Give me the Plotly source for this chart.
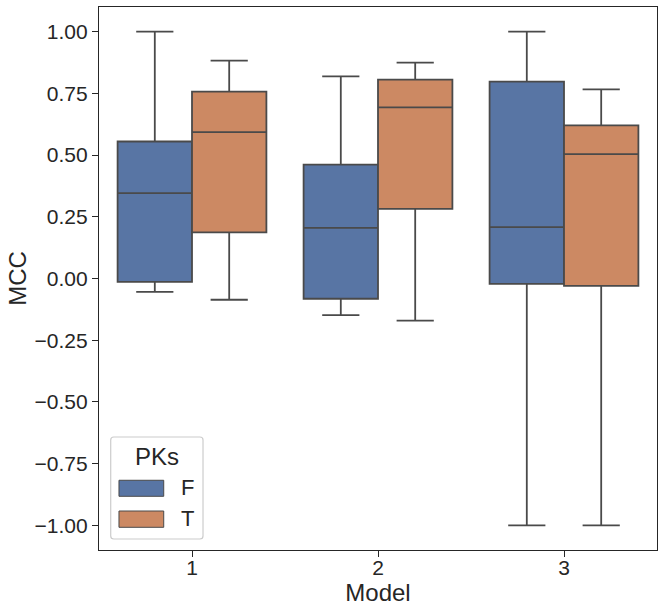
import plotly.graph_objects as go

# box statistics, one entry per model
models = ["1", "2", "3"]

f_lower = [-0.054, -0.148, -1.0]
f_q1 = [-0.014, -0.082, -0.022]
f_median = [0.346, 0.205, 0.208]
f_q3 = [0.555, 0.461, 0.798]
f_upper = [1.0, 0.819, 1.0]

t_lower = [-0.086, -0.171, -1.0]
t_q1 = [0.187, 0.282, -0.030]
t_median = [0.593, 0.693, 0.504]
t_q3 = [0.757, 0.806, 0.620]
t_upper = [0.883, 0.875, 0.766]

hue_names = ["F", "T"]

blue = "#5875a4"
orange = "#cc8963"
edge = "#4a4a4a"
font = "Liberation Sans, Arial, sans-serif"

fig = go.Figure()

for name, color, lo, q1, med, q3, up in [
    ("F", blue, f_lower, f_q1, f_median, f_q3, f_upper),
    ("T", orange, t_lower, t_q1, t_median, t_q3, t_upper),
]:
    fig.add_trace(go.Box(
        x=models, q1=q1, median=med, q3=q3,
        lowerfence=lo, upperfence=up,
        name=name, fillcolor=color,
        line=dict(color=edge, width=1.8),
        whiskerwidth=0.5, boxpoints=False,
        showlegend=False, hoverinfo="y",
    ))

# seaborn-style legend drawn in paper coords (wide patches, rounded frame)
def rounded_rect(x0, y0, x1, y1, rx=0.0055, ry=0.0055):
    return (f"M{x0+rx},{y0} L{x1-rx},{y0} Q{x1},{y0} {x1},{y0+ry} "
            f"L{x1},{y1-ry} Q{x1},{y1} {x1-rx},{y1} L{x0+rx},{y1} "
            f"Q{x0},{y1} {x0},{y1-ry} L{x0},{y0+ry} Q{x0},{y0} {x0+rx},{y0} Z")

fig.add_shape(type="path", xref="paper", yref="paper",
              path=rounded_rect(0.021, 0.0203, 0.1864, 0.2081),
              fillcolor="white", line=dict(color="#cccccc", width=1.2))
fig.add_annotation(text="PKs", xref="paper", yref="paper", x=0.104, y=0.173,
                   xanchor="center", yanchor="middle",
                   showarrow=False, font=dict(size=24))
for name, color, py0, py1, ty in [
    (hue_names[0], blue, 0.0989, 0.1284, 0.1142),
    (hue_names[1], orange, 0.0418, 0.0718, 0.0571),
]:
    fig.add_shape(type="rect", xref="paper", yref="paper",
                  x0=0.0358, x1=0.116, y0=py0, y1=py1,
                  fillcolor=color, line=dict(color=edge, width=1))
    fig.add_annotation(text=name, xref="paper", yref="paper", x=0.159, y=ty,
                       xanchor="center", yanchor="middle",
                       showarrow=False, font=dict(size=22))

fig.update_layout(
    width=664, height=614,
    margin=dict(l=99, r=7, t=7, b=64),
    paper_bgcolor="white", plot_bgcolor="white",
    font=dict(family=font, size=21, color="#262626"),
    boxmode="group", boxgap=0.2, boxgroupgap=0,
    showlegend=False,
)

fig.update_xaxes(
    title=dict(text="Model", font=dict(size=24), standoff=0),
    type="category", range=[-0.5, 2.5],
    showline=True, mirror=True, linecolor="#262626", linewidth=1.25,
    ticks="outside", ticklen=6, tickcolor="#262626",
    ticklabelstandoff=-7,
    showgrid=False,
)
fig.update_yaxes(
    title=dict(text="MCC", font=dict(size=24), standoff=1),
    range=[-1.1, 1.1], tick0=-1, dtick=0.25, tickformat=".2f",
    showline=True, mirror=True, linecolor="#262626", linewidth=1.25,
    ticks="outside", ticklen=6, tickcolor="#262626",
    showgrid=False, zeroline=False,
)

fig.write_html("out.html", config={"displayModeBar": False},
               post_script="document.body.style.margin='0px';")
